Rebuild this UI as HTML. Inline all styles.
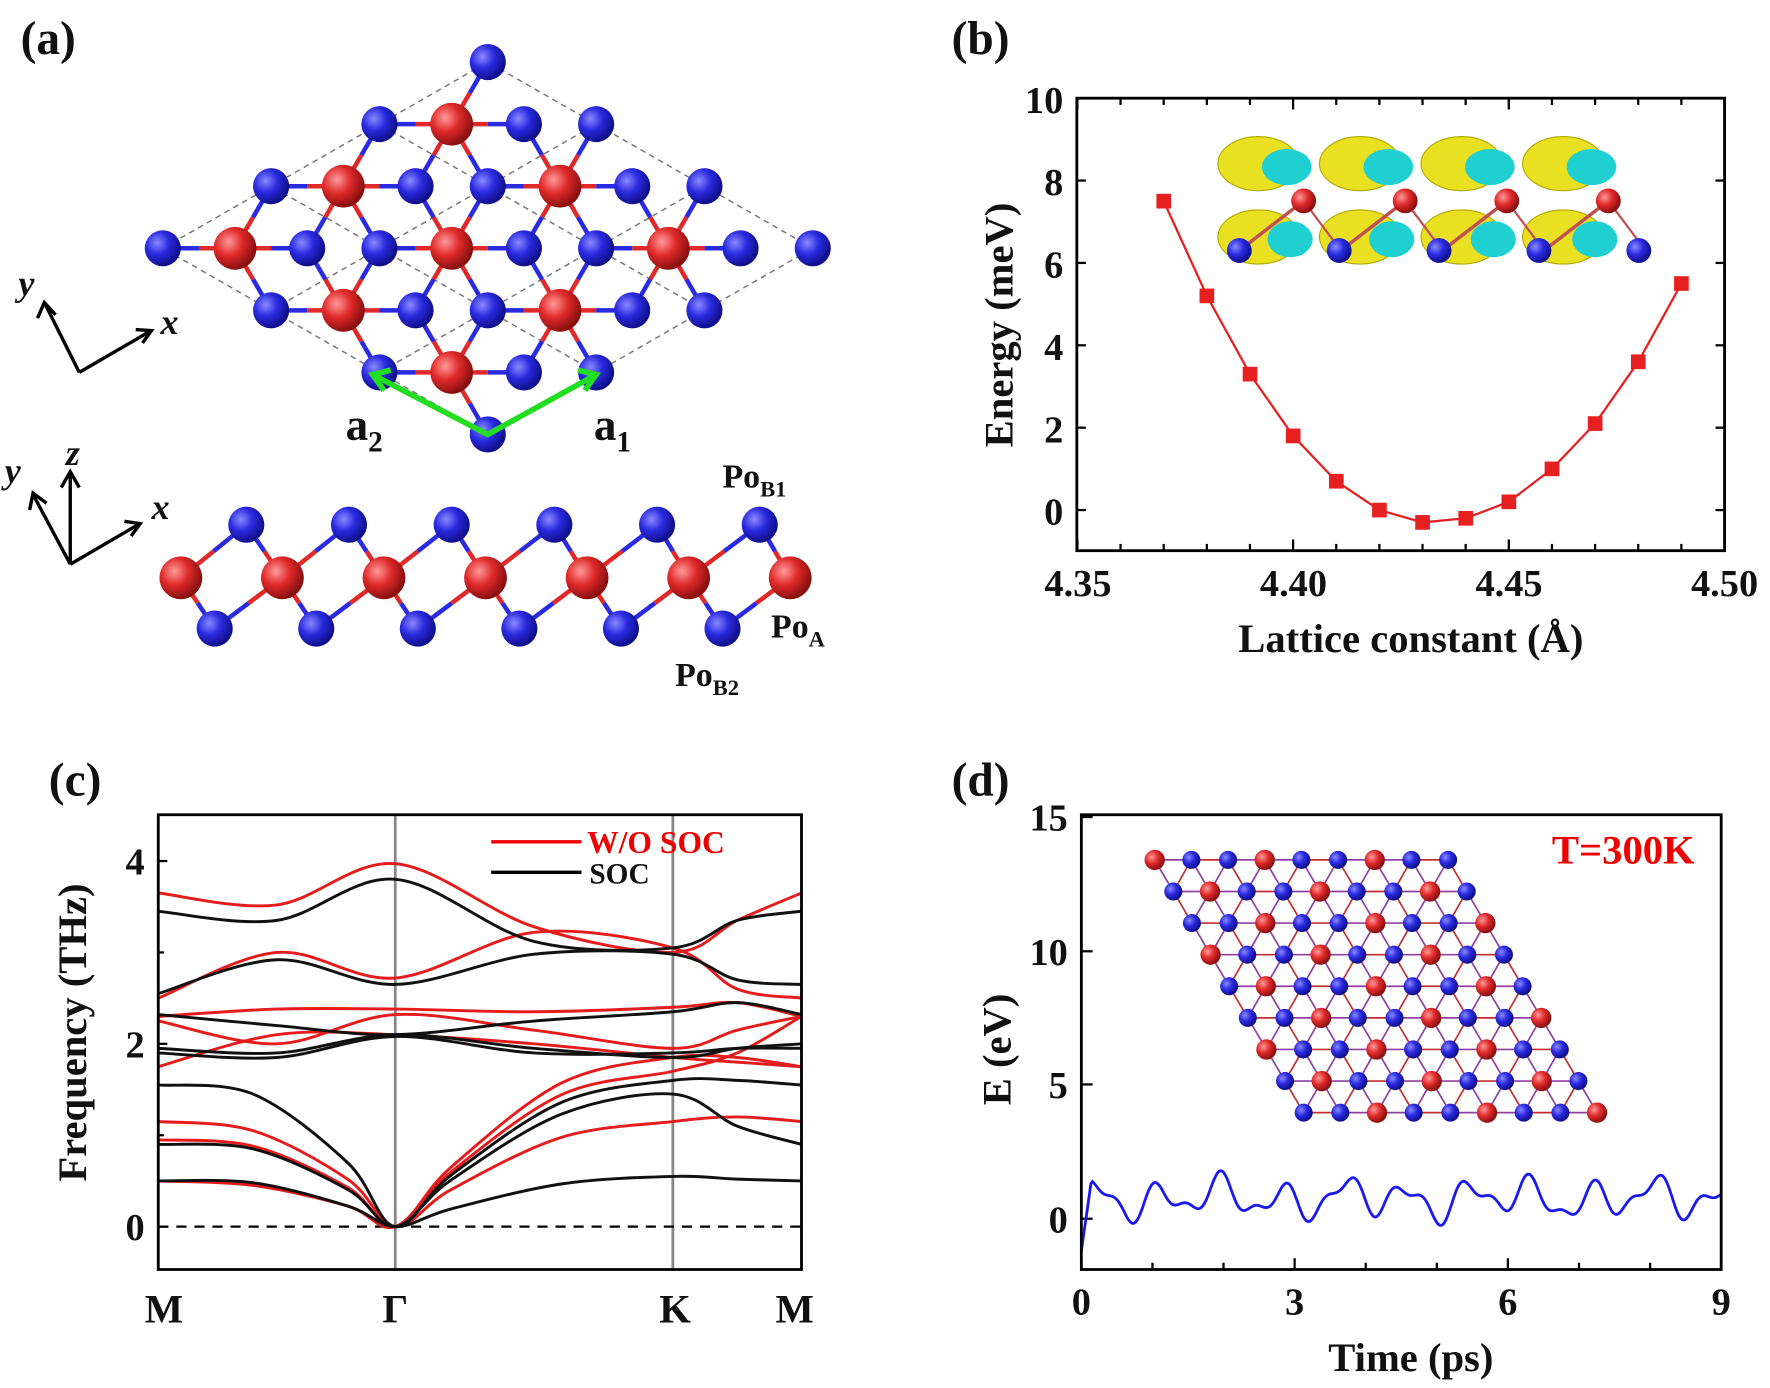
<!DOCTYPE html>
<html><head><meta charset="utf-8"><style>
html,body{margin:0;padding:0;background:#fff}
svg{display:block}
text{font-family:"Liberation Serif",serif;font-weight:bold;fill:#111}
</style></head><body>
<svg id="s" width="1770" height="1388" viewBox="0 0 1568 1230" xmlns="http://www.w3.org/2000/svg">
<defs>
<radialGradient id="gb" cx="35%" cy="35%" r="65%"><stop offset="0" stop-color="#8a8aff"/><stop offset="0.5" stop-color="#2a2ae0"/><stop offset="1" stop-color="#10108a"/></radialGradient>
<radialGradient id="gr" cx="35%" cy="35%" r="65%"><stop offset="0" stop-color="#ff9a9a"/><stop offset="0.5" stop-color="#e02a2a"/><stop offset="1" stop-color="#8a1010"/></radialGradient>
</defs>
<g id="a"></g>
<text x="18" y="48" font-size="42">(a)</text>
<text x="843" y="48" font-size="42">(b)</text>
<text x="43" y="705" font-size="42">(c)</text>
<text x="843" y="705" font-size="42">(d)</text>

<g stroke="#000" stroke-width="3" fill="none">
<path d="M70 330 L132 294 M120 292 L134 293 L126 304"/>
<path d="M70 330 L40 270 M33 282 L39 268 L49 279"/>
<path d="M62 500 L122 465 M110 462 L124 464 L116 475"/>
<path d="M62 500 L62 420 M54 432 L62 418 L70 432"/>
<path d="M62 500 L30 440 M26 452 L29 437 L41 446"/>
</g>
<text x="142" y="296" font-size="32" font-style="italic">x</text>
<text x="16" y="262" font-size="32" font-style="italic">y</text>
<text x="134" y="460" font-size="32" font-style="italic">x</text>
<text x="58" y="412" font-size="32" font-style="italic">z</text>
<text x="4" y="428" font-size="32" font-style="italic">y</text>
<text x="306" y="390" font-size="40">a<tspan font-size="26" dy="10">2</tspan></text>
<text x="526" y="390" font-size="40">a<tspan font-size="26" dy="10">1</tspan></text>
<text x="640" y="432" font-size="30">Po<tspan font-size="20" dy="8">B1</tspan></text>
<text x="683" y="565" font-size="30">Po<tspan font-size="20" dy="8">A</tspan></text>
<text x="598" y="608" font-size="30">Po<tspan font-size="20" dy="8">B2</tspan></text>

<g id="b"></g>
<rect x="954" y="87" width="574" height="401" fill="none" stroke="#000" stroke-width="2.5"/>
<g font-size="34" text-anchor="end">
<text x="942" y="100">10</text><text x="942" y="173">8</text><text x="942" y="246">6</text><text x="942" y="319">4</text><text x="942" y="392">2</text><text x="942" y="465">0</text>
</g>
<g font-size="34" text-anchor="middle">
<text x="955" y="528">4.35</text><text x="1146" y="528">4.40</text><text x="1337" y="528">4.45</text><text x="1528" y="528">4.50</text>
</g>
<text x="1250" y="578" font-size="36" text-anchor="middle">Lattice constant (Å)</text>
<text transform="translate(897 288) rotate(-90)" font-size="36" text-anchor="middle">Energy (meV)</text>

<g id="c"></g>
<rect x="140" y="722" width="570" height="403" fill="none" stroke="#000" stroke-width="2.5"/>
<g font-size="34" text-anchor="end"><text x="128" y="1099">0</text><text x="128" y="937">2</text><text x="128" y="775">4</text></g>
<g font-size="36" text-anchor="middle"><text x="145" y="1172">M</text><text x="350" y="1172">Γ</text><text x="598" y="1172">K</text><text x="704" y="1172">M</text></g>
<text transform="translate(76 915) rotate(-90)" font-size="36" text-anchor="middle">Frequency (THz)</text>
<line x1="435" y1="746" x2="515" y2="746" stroke="#e00" stroke-width="3"/>
<line x1="435" y1="773" x2="515" y2="773" stroke="#000" stroke-width="3"/>
<text x="520" y="756" font-size="28" style="fill:#e00">W/O SOC</text>
<text x="522" y="783" font-size="26">SOC</text>

<g id="d"></g>
<rect x="958" y="722" width="567" height="403" fill="none" stroke="#000" stroke-width="2.5"/>
<g font-size="34" text-anchor="end"><text x="946" y="1092">0</text><text x="946" y="973">5</text><text x="946" y="855">10</text><text x="946" y="736">15</text></g>
<g font-size="34" text-anchor="middle"><text x="958" y="1165">0</text><text x="1147" y="1165">3</text><text x="1336" y="1165">6</text><text x="1525" y="1165">9</text></g>
<text x="1250" y="1215" font-size="36" text-anchor="middle">Time (ps)</text>
<text transform="translate(895 930) rotate(-90)" font-size="36" text-anchor="middle">E (eV)</text>
<text x="1375" y="765" font-size="36" style="fill:#e00">T=300K</text>
</svg>
<script>
const NS="http://www.w3.org/2000/svg";
function el(p,t,a){const e=document.createElementNS(NS,t);for(const k in a)e.setAttribute(k,a[k]);p.appendChild(e);return e;}
function cr(pts){let d="M"+pts[0][0]+" "+pts[0][1];for(let i=0;i<pts.length-1;i++){const p0=pts[i-1]||pts[i],p1=pts[i],p2=pts[i+1],p3=pts[i+2]||p2;
const c1=[p1[0]+(p2[0]-p0[0])/6,p1[1]+(p2[1]-p0[1])/6],c2=[p2[0]-(p3[0]-p1[0])/6,p2[1]-(p3[1]-p1[1])/6];
d+=` C${c1[0].toFixed(1)} ${c1[1].toFixed(1)} ${c2[0].toFixed(1)} ${c2[1].toFixed(1)} ${p2[0].toFixed(1)} ${p2[1].toFixed(1)}`;}return d;}
const A=document.getElementById("a");
const O=[432,385],a1=[96,-55],a2=[-96,-55];
const L=(i,j)=>[O[0]+i*a1[0]+j*a2[0],O[1]+i*a1[1]+j*a2[1]];
for(let k=0;k<=3;k++){let p=L(k,0),q=L(k,3);el(A,"line",{x1:p[0],y1:p[1],x2:q[0],y2:q[1],stroke:"#777","stroke-dasharray":"5 4","stroke-width":1.3});
p=L(0,k);q=L(3,k);el(A,"line",{x1:p[0],y1:p[1],x2:q[0],y2:q[1],stroke:"#777","stroke-dasharray":"5 4","stroke-width":1.3});}
let blue=[],red=[];
for(let i=0;i<=3;i++)for(let j=0;j<=3;j++){const p=L(i,j);blue.push(p);
if(i<3&&j<3){red.push([p[0]-32,p[1]-55]);blue.push([p[0]+32,p[1]-55]);}}
blue=blue.filter(b=>b[1]>40);
red.forEach(r=>blue.forEach(b=>{const d=Math.hypot(r[0]-b[0],r[1]-b[1]);if(d<70){const m=[(r[0]+b[0])/2,(r[1]+b[1])/2];
el(A,"line",{x1:r[0],y1:r[1],x2:m[0],y2:m[1],stroke:"#e02a2a","stroke-width":4});el(A,"line",{x1:m[0],y1:m[1],x2:b[0],y2:b[1],stroke:"#2a2ae0","stroke-width":4});}}));
blue.forEach(b=>el(A,"circle",{cx:b[0],cy:b[1],r:16,fill:"url(#gb)"}));
red.forEach(r=>el(A,"circle",{cx:r[0],cy:r[1],r:19,fill:"url(#gr)"}));
el(A,"path",{d:"M330 332 L432 385 L528 332",fill:"none",stroke:"#22dd22","stroke-width":5});
el(A,"path",{d:"M346 328 L330 332 L340 346 M512 328 L528 332 L518 346",fill:"none",stroke:"#22dd22","stroke-width":5});
const R=[],U=[],D=[];for(let i=0;i<7;i++)R.push([160+i*90,512]);for(let i=0;i<6;i++){U.push([218+i*91,465]);D.push([190+i*90,557]);}
function bond(p,q){const m=[(p[0]+q[0])/2,(p[1]+q[1])/2];el(A,"line",{x1:p[0],y1:p[1],x2:m[0],y2:m[1],stroke:"#e02a2a","stroke-width":4});el(A,"line",{x1:m[0],y1:m[1],x2:q[0],y2:q[1],stroke:"#2a2ae0","stroke-width":4});}
for(let i=0;i<6;i++){bond(R[i],U[i]);bond(R[i],D[i]);bond(R[i+1],U[i]);bond(R[i+1],D[i]);}
U.forEach(b=>el(A,"circle",{cx:b[0],cy:b[1],r:16,fill:"url(#gb)"}));D.forEach(b=>el(A,"circle",{cx:b[0],cy:b[1],r:16,fill:"url(#gb)"}));
R.forEach(r=>el(A,"circle",{cx:r[0],cy:r[1],r:19,fill:"url(#gr)"}));
const B=document.getElementById("b");
for(let k=0;k<=5;k++){const y=452-k*73;el(B,"line",{x1:954,y1:y,x2:962,y2:y,stroke:"#000","stroke-width":2});el(B,"line",{x1:1528,y1:y,x2:1520,y2:y,stroke:"#000","stroke-width":2});}
for(let k=0;k<=15;k++){const x=954.5+k*38.23,h=k%5==0?10:6;el(B,"line",{x1:x,y1:488,x2:x,y2:488-h,stroke:"#000","stroke-width":2});el(B,"line",{x1:x,y1:87,x2:x,y2:87+h,stroke:"#000","stroke-width":2});}
for(let i=0;i<4;i++){const x=1085+i*90;
el(B,"ellipse",{cx:x+30,cy:145,rx:36,ry:24,fill:"#e8e020",stroke:"#b0a800"});el(B,"ellipse",{cx:x+55,cy:148,rx:22,ry:16,fill:"#20d0d0"});
el(B,"ellipse",{cx:x+30,cy:210,rx:36,ry:24,fill:"#e8e020",stroke:"#b0a800"});el(B,"ellipse",{cx:x+58,cy:212,rx:20,ry:16,fill:"#20d0d0"});}
for(let i=0;i<4;i++){const rx=1155+i*90,bx=1098+i*90;el(B,"line",{x1:bx,y1:222,x2:rx,y2:178,stroke:"#c05050","stroke-width":3});el(B,"line",{x1:rx,y1:178,x2:bx+90,y2:222,stroke:"#c05050","stroke-width":2});}
for(let i=0;i<4;i++){el(B,"circle",{cx:1155+i*90,cy:178,r:11,fill:"url(#gr)"});}
for(let i=0;i<5;i++){el(B,"circle",{cx:1098+i*88.5,cy:222,r:11,fill:"url(#gb)"});}
const eb=[7.5,5.2,3.3,1.8,0.7,0,-0.3,-0.2,0.2,1.0,2.1,3.6,5.5];
const bp=eb.map((v,i)=>[1031+i*38.23,452-v*36.5]);
el(B,"polyline",{points:bp.map(p=>p.join(",")).join(" "),fill:"none",stroke:"#e62020","stroke-width":2});
bp.forEach(p=>el(B,"rect",{x:p[0]-6.5,y:p[1]-6.5,width:13,height:13,fill:"#e62020"}));
const C=document.getElementById("c");
[1087,925,763].forEach(y=>{el(C,"line",{x1:140,y1:y,x2:148,y2:y,stroke:"#000","stroke-width":2});});
[1006,844].forEach(y=>{el(C,"line",{x1:140,y1:y,x2:145,y2:y,stroke:"#000","stroke-width":2});});
el(C,"line",{x1:350,y1:722,x2:350,y2:1125,stroke:"#888","stroke-width":2.5});
el(C,"line",{x1:596,y1:722,x2:596,y2:1125,stroke:"#888","stroke-width":2.5});
el(C,"line",{x1:140,y1:1087,x2:710,y2:1087,stroke:"#000","stroke-width":2,"stroke-dasharray":"9 7"});
const X=t=>t<=1?140+t*210:(t<=2?350+(t-1)*246:596+(t-2)*114);const Y=v=>1087-v*81;
function band(pts,col){el(C,"path",{d:cr(pts.map(p=>[X(p[0]),Y(p[1])])),fill:"none",stroke:col,"stroke-width":2.6});}
const R7=(v)=>[[0,v[0]],[0.5,v[1]],[1,v[2]],[1.5,v[3]],[2,v[4]],[2.5,v[5]],[3,v[6]]];
const red7=[[3.65,3.52,3.97,3.28,3.0,3.35,3.65],[2.5,3.0,2.72,3.22,3.05,2.6,2.5],[2.3,2.38,2.38,2.35,2.4,2.45,2.3],[2.25,2.0,2.32,2.15,1.95,2.15,2.3],[1.75,2.1,2.1,2.0,1.85,1.8,1.75]];
const blk7=[[3.45,3.35,3.8,3.12,3.05,3.35,3.45],[2.55,2.92,2.65,2.98,2.98,2.7,2.65],[2.32,2.2,2.1,2.25,2.35,2.45,2.32],[1.95,1.9,2.1,1.95,1.85,1.95,2.0],[1.9,1.85,2.08,1.9,1.9,1.95,1.95]];
red7.forEach(v=>band(R7(v),"#e61c1c"));
function ac(m,mid,k,km,m2,col){band([[0,m],[0.4,mid],[0.8,m*0.45],[1,0],[1.2,k*0.35],[1.6,k*0.85],[2,k],[2.5,km],[3,m2]],col);}
ac(1.15,1.05,1.15,1.2,1.15,"#e61c1c");ac(0.95,0.88,1.85,1.85,1.75,"#e61c1c");ac(0.5,0.45,1.7,1.9,2.3,"#e61c1c");
blk7.forEach(v=>band(R7(v),"#111"));
ac(1.55,1.45,1.6,1.6,1.55,"#111");ac(0.9,0.85,1.45,1.1,0.9,"#111");ac(0.5,0.48,0.55,0.52,0.5,"#111");
const Dg=document.getElementById("d");
for(let k=0;k<=9;k++){const x=958+k*63,h=k%3==0?10:6;el(Dg,"line",{x1:x,y1:1125,x2:x,y2:1125-h,stroke:"#000","stroke-width":2});}
[1080,961,843,724].forEach(y=>el(Dg,"line",{x1:958,y1:y,x2:968,y2:y,stroke:"#000","stroke-width":2}));
let pts=[];for(let i=0;i<=400;i++){const t=i/400*9;let v=0.75+0.55*Math.sin(t*7.2)+0.3*Math.sin(t*13.1+1)+0.2*Math.sin(t*3.1+2);
if(t<0.15)v=-1.2+t/0.15*2.8;pts.push([958+t*63,1080-v*23.7]);}
el(Dg,"polyline",{points:pts.map(p=>p[0].toFixed(1)+","+p[1].toFixed(1)).join(" "),fill:"none",stroke:"#1a1aee","stroke-width":2.5});
const o=[1023,762],e1=[32.5,0],e2=[16.5,28];
const P=(i,j)=>[o[0]+i*e1[0]+j*e2[0],o[1]+i*e1[1]+j*e2[1]];
let pr=[],pb=[];
for(let j=0;j<=8;j++)for(let i=0;i<=8;i++){const p=P(i,j);const col=((i-j)%3+3)%3==0?"r":"b";if(col=="r")pr.push(p);else pb.push(p);}
const all=pr.map(p=>[p,"r"]).concat(pb.map(p=>[p,"b"]));
all.forEach(([p,c])=>all.forEach(([q,d])=>{const dd=Math.hypot(p[0]-q[0],p[1]-q[1]);if(dd>1&&dd<34&&p[0]<q[0]+0.1)el(Dg,"line",{x1:p[0],y1:p[1],x2:q[0],y2:q[1],stroke:c!=d?"#9040a0":"#c03030","stroke-width":1.5});}));
pb.forEach(p=>el(Dg,"circle",{cx:p[0],cy:p[1],r:8,fill:"url(#gb)"}));
pr.forEach(p=>el(Dg,"circle",{cx:p[0],cy:p[1],r:9,fill:"url(#gr)"}));
</script>
</body></html>
